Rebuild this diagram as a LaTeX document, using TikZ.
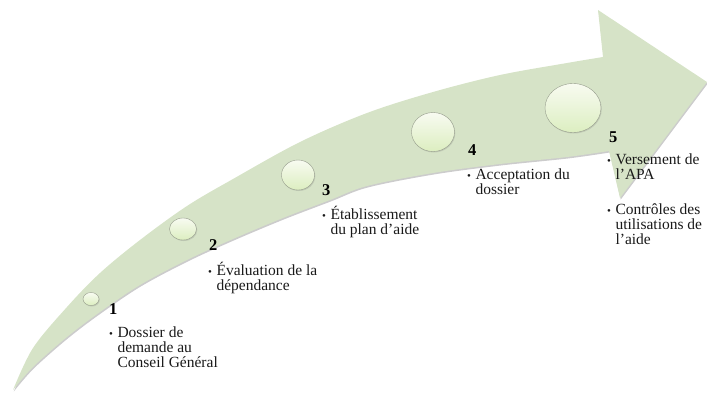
\documentclass[tikz,border=0pt]{standalone}
\usepackage{fontspec}
\setmainfont{Liberation Serif}
\usepackage{tikz}
\usetikzlibrary{shapes.geometric, shadows}

\definecolor{arrowgreen}{RGB}{214,227,199}
\definecolor{bubbletop}{RGB}{248,251,241}
\definecolor{bubblebot}{RGB}{220,238,192}
\definecolor{bubbleline}{RGB}{150,156,140}

\newcommand{\stepbullet}{{\fontsize{11}{11}\selectfont\textbullet}\hspace{4.5pt}}

\tikzset{
    bubble/.style={ellipse, draw=bubbleline, top color=bubbletop, bottom color=bubblebot, inner sep=0pt,
        drop shadow={opacity=0.25, shadow xshift=0.8pt, shadow yshift=-1pt}},
    stepnum/.style={font=\fontsize{16.5}{16.5}\selectfont\bfseries, anchor=base west, inner sep=0pt},
    steptext/.style={font=\fontsize{15.5}{14.5}\selectfont, anchor=base west, inner sep=0pt, text=black!90}
}

\begin{document}
\begin{tikzpicture}[x=1pt, y=-1pt]
    \useasboundingbox (0,0) rectangle (707,394);

    % curved arrow
    \fill[arrowgreen, preaction={fill=black, opacity=0.2, transform canvas={xshift=0.8pt, yshift=-1.5pt}}]
        (13,390) -- plot[smooth, tension=0.55] coordinates {(13,390) (33,348) (67,307) (100,273) (140,240) (187,206) (233,179) (300,142) (367,113) (433,92) (500,75) (567,63) (603,57)}
        -- (598,10) -- (707,82) -- (620,198) -- (609,151)
        -- plot[smooth, tension=0.55] coordinates {(609,151) (567,157) (500,164) (433,173) (367,186) (330,200) (283,218) (233,239) (187,260) (140,285) (100,312) (67,337) (33,367) (13,390)}
        -- cycle;

    % bubbles
    \node[bubble, minimum width=16pt, minimum height=13pt] (bubble1) at (91,299) {};
    \node[bubble, minimum width=27pt, minimum height=22pt] (bubble2) at (183,229) {};
    \node[bubble, minimum width=33pt, minimum height=30pt] (bubble3) at (298,175) {};
    \node[bubble, minimum width=43pt, minimum height=39pt] (bubble4) at (433,132) {};
    \node[bubble, minimum width=56pt, minimum height=49pt] (bubble5) at (573,108) {};

    % numbers
    \node[stepnum] (num1) at (109,314) {1};
    \node[stepnum] (num2) at (209,250) {2};
    \node[stepnum] (num3) at (322,195) {3};
    \node[stepnum] (num4) at (468,155) {4};
    \node[stepnum] (num5) at (609,142) {5};

    % texts
    \node[steptext] (txt1) at (109,337) {\stepbullet\begin{tabular}[t]{@{}l@{}}Dossier de\\demande au\\Conseil Général\end{tabular}};
    \node[steptext] (txt2) at (208,275) {\stepbullet\begin{tabular}[t]{@{}l@{}}Évaluation de la\\dépendance\end{tabular}};
    \node[steptext] (txt3) at (322,219) {\stepbullet\begin{tabular}[t]{@{}l@{}}Établissement\\du plan d'aide\end{tabular}};
    \node[steptext] (txt4) at (467,179) {\stepbullet\begin{tabular}[t]{@{}l@{}}Acceptation du\\dossier\end{tabular}};
    \node[steptext] (txt5a) at (607,164) {\stepbullet\begin{tabular}[t]{@{}l@{}}Versement de\\l'APA\end{tabular}};
    \node[steptext] (txt5b) at (607,214) {\stepbullet\begin{tabular}[t]{@{}l@{}}Contrôles des\\utilisations de\\l'aide\end{tabular}};
\end{tikzpicture}
\end{document}
